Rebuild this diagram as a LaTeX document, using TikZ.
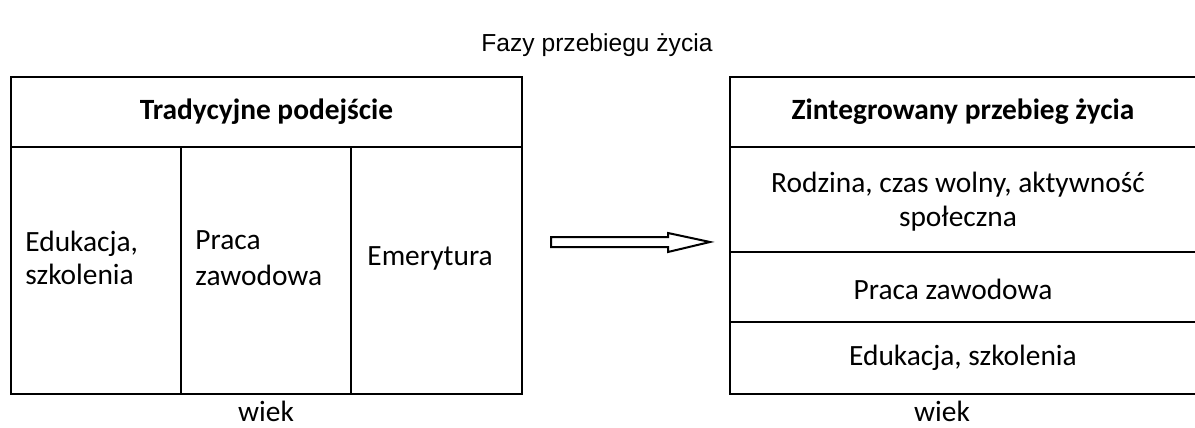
\documentclass[tikz,border=0pt]{standalone}
\usepackage{fontspec}
\setmainfont{Carlito}
\newfontfamily\arialfont{Liberation Sans}
\begin{document}
\begin{tikzpicture}[x=0.5pt,y=-0.5pt,
  frame/.style={draw,line width=1.2pt},
  txt/.style={font=\fontsize{14.7}{16.5}\selectfont, inner sep=0pt},
  hdr/.style={font=\bfseries\fontsize{14.7}{16.5}\selectfont, inner sep=0pt},
  ttl/.style={font=\arialfont\fontsize{12.3}{15}\selectfont, inner sep=0pt},
  blockarrow/.style={draw,line width=1pt,fill=white}]
\useasboundingbox (0,0) rectangle (1195,428);
% title
\node[ttl] (title) at (597,45) {Fazy przebiegu życia};
% left box
\draw[frame] (11,77) rectangle (522,394);
\draw[frame] (11,147) -- (522,147);
\draw[frame] (181,147) -- (181,394);
\draw[frame] (351,147) -- (351,394);
\node[hdr] (lh) at (266.5,112) {Tradycyjne podejście};
\node[txt,align=left,anchor=west] (edu) at (25,258) {Edukacja,\\szkolenia};
\node[txt,align=left,anchor=west,font=\fontsize{14.7}{18}\selectfont] (praca) at (195,258) {Praca\\zawodowa};
\node[txt,anchor=west] (emer) at (367,258) {Emerytura};
\node[txt] (wiekL) at (266,411) {wiek};
% right box
\draw[frame] (1200,77) -- (730,77) -- (730,394) -- (1200,394);
\draw[frame] (730,147) -- (1200,147);
\draw[frame] (730,252) -- (1200,252);
\draw[frame] (730,322) -- (1200,322);
\node[hdr] (rh) at (963,112) {Zintegrowany przebieg życia};
\node[txt,align=center,font=\fontsize{14.7}{17}\selectfont] (rodz) at (958,202) {Rodzina, czas wolny, aktywność\\społeczna};
\node[txt] (prz) at (953,289) {Praca zawodowa};
\node[txt] (edz) at (963,358) {Edukacja, szkolenia};
\node[txt] (wiekR) at (942,411) {wiek};
% block arrow
\draw[blockarrow] (551,237) -- (668,237) -- (668,233) -- (710,242) -- (668,252) -- (668,247) -- (551,247) -- cycle;
\end{tikzpicture}
\end{document}
